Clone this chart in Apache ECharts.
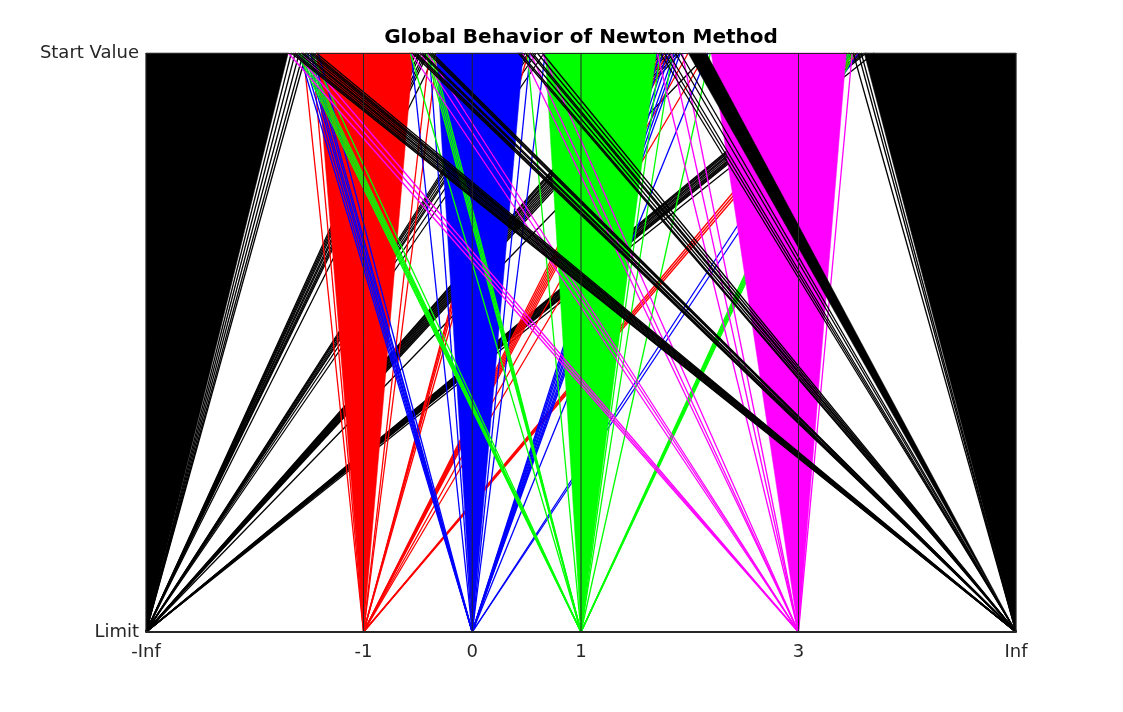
<!DOCTYPE html>
<html>
<head>
<meta charset="utf-8">
<title>Global Behavior of Newton Method</title>
<script src="https://cdn.jsdelivr.net/npm/echarts@6/dist/echarts.min.js"></script>
<style>
  html, body { margin: 0; padding: 0; background: #fff; }
  #chart { width: 1123px; height: 712px; }
</style>
</head>
<body>
<div id="chart"></div>
<script>
// axis: -Inf and Inf sit at -3 and 5 on the start value scale
var xTicks = [-3, -1, 0, 1, 3, 5];
var xTickLabels = ['-Inf', '-1', '0', '1', '3', 'Inf'];
var yTicks = [0, 1];
var yTickLabels = ['Limit', 'Start Value'];

// start values read off the top edge, one group per limit
// bands are [from, to] runs of starts too dense to tell apart
var negInfBands = [[-3, -1.692]];
var negInfLines = [-1.664, -1.628, -1.591, -1.554, -1.526,
  -0.570, -0.552, -0.533, -0.515, -0.488, -0.470, -0.442, -0.423, -0.405, -0.331,
  0.423, 0.442, 0.460, 0.488, 0.515, 0.533, 0.589, 0.662,
  1.683, 1.702, 1.729, 1.747, 1.775, 1.802, 1.830, 1.858, 1.885, 1.913, 2.170,
  3.430, 3.449, 3.467, 3.494, 3.513, 3.540, 3.568, 3.586, 3.605, 3.623, 3.697];

var negOneBands = [[-1.434, -0.543]];
var negOneLines = [-1.554, -1.471, -0.395, -0.322, 0.423, 0.442, 0.469, 0.515,
  1.683, 1.711, 1.738, 1.766, 1.793, 1.821, 1.986, 2.152, 3.476, 3.513, 3.549];

var zeroBands = [[-0.331, 0.469]];
var zeroLines = [-1.591, -1.563, -1.536, -1.517, -1.490, -1.471, -1.416, -0.561, -0.395, 0.533, 0.671,
  1.701, 1.729, 1.756, 1.793, 1.821, 1.858, 1.885, 1.913, 2.170, 3.476, 3.549];

var oneBands = [[0.671, 1.692]];
var oneLines = [-1.609, -1.591, -1.572, -1.554, -1.536, -1.480, -0.570,
  -0.423, -0.405, -0.386, -0.368, 0.506, 1.729, 1.839, 2.189,
  3.439, 3.458, 3.476, 3.494, 3.513];

var threeBands = [[2.198, 3.439]];
var threeLines = [-1.692, -1.628, -1.563, -0.561, -0.478, -0.414, 0.460, 0.533, 0.644, 1.701, 1.830, 1.931, 3.494];

var infBands = [[1.986, 2.152], [3.604, 5]];
var infLines = [-1.665, -1.646, -1.628, -1.600, -1.572, -1.554, -1.526, -1.499, -1.480, -1.462, -1.434,
  -0.552, -0.533, -0.515, -0.478, -0.460, -0.405, -0.386, -0.368,
  0.423, 0.442, 0.487, 0.533, 0.552, 0.598, 0.644,
  1.729, 1.766, 1.802, 1.867, 1.913,
  3.503, 3.549, 3.577];

var chart = echarts.init(document.getElementById('chart'));

// each datum: from, to, limit. from == to is one line, otherwise a filled fan
function renderFan(color, width) {
  return function (params, api) {
    var from = api.value(0), to = api.value(1), limit = api.value(2);
    var a = api.coord([from, 1]), b = api.coord([to, 1]), c = api.coord([limit, 0]);
    if (from === to) {
      return {
        type: 'line',
        shape: { x1: a[0], y1: a[1], x2: c[0], y2: c[1] },
        style: { stroke: color, lineWidth: width, fill: null }
      };
    }
    return {
      type: 'polygon',
      shape: { points: [a, b, c] },
      style: { fill: color, stroke: color, lineWidth: 0.5 }
    };
  };
}

function fanSeries(name, limit, bands, lines, color) {
  var data = [];
  bands.forEach(function (b) { data.push([b[0], b[1], limit]); });
  lines.forEach(function (v) { data.push([v, v, limit]); });
  return {
    name: name,
    type: 'custom',
    coordinateSystem: 'cartesian2d',
    renderItem: renderFan(color, 1.3),
    encode: { x: 0, y: 2 },
    silent: true,
    animation: false,
    clip: false,
    data: data
  };
}

var series = [
  fanSeries('-Inf', -3, negInfBands, negInfLines, '#000000'),
  fanSeries('-1', -1, negOneBands, negOneLines, '#ff0000'),
  fanSeries('0', 0, zeroBands, zeroLines, '#0000ff'),
  fanSeries('1', 1, oneBands, oneLines, '#00ff00'),
  fanSeries('3', 3, threeBands, threeLines, '#ff00ff'),
  fanSeries('Inf', 5, infBands, infLines, '#000000')
];

// grid lines go over the fans
series.push({
  name: 'grid',
  type: 'custom',
  coordinateSystem: 'cartesian2d',
  renderItem: renderFan('#262626', 1),
  encode: { x: 0, y: 2 },
  silent: true,
  animation: false,
  clip: false,
  data: xTicks.map(function (v) { return [v, v, v]; })
});

var tickText = { color: '#262626', fontFamily: 'DejaVu Sans', fontSize: 18 };

var option = {
  animation: false,
  backgroundColor: '#ffffff',
  title: {
    text: 'Global Behavior of Newton Method',
    left: 576,
    top: 23,
    textAlign: 'center',
    textStyle: { color: '#000', fontFamily: 'DejaVu Sans', fontWeight: 'bold', fontSize: 20 }
  },
  grid: { left: 146, top: 53, width: 870, height: 579 },
  xAxis: [
    {
      type: 'value', min: -3, max: 5, z: 10,
      axisLine: { show: true, onZero: false, lineStyle: { color: '#262626', width: 2 } },
      axisTick: { show: false },
      splitLine: { show: false },
      axisLabel: Object.assign({
        margin: 11,
        customValues: xTicks,
        formatter: function (v) { return xTickLabels[xTicks.indexOf(v)]; }
      }, tickText)
    },
    {
      type: 'value', min: -3, max: 5, position: 'top', z: 10,
      axisLine: { show: true, onZero: false, lineStyle: { color: '#262626', width: 1 } },
      axisTick: { show: false },
      axisLabel: { show: false },
      splitLine: { show: false }
    }
  ],
  yAxis: {
    type: 'value', min: 0, max: 1, interval: 1,
    axisLine: { show: false },
    axisTick: { show: false },
    splitLine: { show: false },
    axisLabel: Object.assign({
      margin: 7,
      formatter: function (v) { return yTickLabels[yTicks.indexOf(v)]; }
    }, tickText)
  },
  series: series
};

chart.setOption(option);

window.onresize = function () {
  chart.resize();
};
</script>
</body>
</html>
